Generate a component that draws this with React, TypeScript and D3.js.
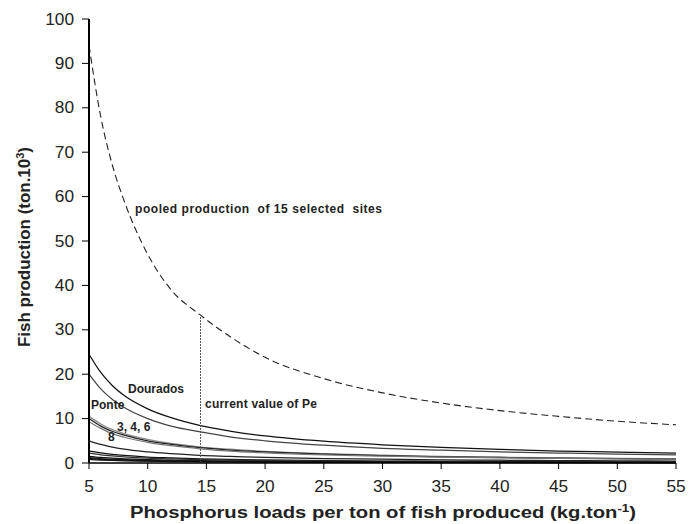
import React from 'react'
import * as d3 from 'd3'

// phosphorus load per ton of fish (kg/ton)
const loads = [5, 6, 7, 8, 10, 12, 14.5, 17, 20, 25, 30, 35, 40, 45, 50, 55]

// fish production (ton.10^3) per site
const pooled = [94, 78, 67, 59, 47, 39, 33.3, 28.5, 23.8, 19, 15.8, 13.5, 11.8, 10.5, 9.4, 8.6]
const dourados = [24.5, 20.4, 17.4, 15.2, 12.2, 10.2, 8.4, 7.2, 6.1, 4.9, 4.1, 3.5, 3.05, 2.7, 2.45, 2.2]
const ponte = [20.0, 16.7, 14.3, 12.5, 10.0, 8.3, 7.0, 5.9, 5.0, 4.0, 3.3, 2.9, 2.5, 2.25, 2.0, 1.85]
const site3 = [10.5, 8.8, 7.5, 6.6, 5.3, 4.4, 3.6, 3.1, 2.6, 2.1, 1.75, 1.5, 1.3, 1.15, 1.05, 0.95]
const site4 = [10.0, 8.3, 7.1, 6.3, 5.0, 4.2, 3.45, 2.9, 2.5, 2.0, 1.65, 1.4, 1.25, 1.1, 1.0, 0.9]
const site6 = [9.3, 7.8, 6.6, 5.8, 4.65, 3.9, 3.2, 2.7, 2.3, 1.85, 1.55, 1.3, 1.15, 1.05, 0.93, 0.85]
const site8 = [5.0, 4.2, 3.6, 3.1, 2.5, 2.1, 1.7, 1.5, 1.25, 1.0, 0.85, 0.7, 0.62, 0.55, 0.5, 0.45]
const siteA = [2.7, 2.3, 1.95, 1.7, 1.35, 1.15, 0.93, 0.8, 0.68, 0.54, 0.45, 0.39, 0.34, 0.3, 0.27, 0.25]
const siteB = [2.2, 1.85, 1.6, 1.4, 1.1, 0.92, 0.76, 0.65, 0.55, 0.44, 0.37, 0.32, 0.28, 0.25, 0.22, 0.2]
const siteC = [1.5, 1.25, 1.08, 0.95, 0.75, 0.63, 0.52, 0.44, 0.38, 0.3, 0.25, 0.21, 0.19, 0.17, 0.15, 0.14]
const siteD = [1.2, 1.0, 0.86, 0.75, 0.6, 0.5, 0.41, 0.35, 0.3, 0.24, 0.2, 0.17, 0.15, 0.13, 0.12, 0.11]
const siteE = [1.0, 0.83, 0.71, 0.63, 0.5, 0.42, 0.35, 0.29, 0.25, 0.2, 0.17, 0.14, 0.13, 0.11, 0.1, 0.09]
const siteF = [0.8, 0.67, 0.57, 0.5, 0.4, 0.33, 0.28, 0.24, 0.2, 0.16, 0.13, 0.11, 0.1, 0.09, 0.08, 0.07]

const sites = [
  {name: 'Dourados', values: dourados, color: '#111'},
  {name: 'Ponte', values: ponte, color: '#444'},
  {name: '3', values: site3, color: '#888'},
  {name: '4', values: site4, color: '#222'},
  {name: '6', values: site6, color: '#777'},
  {name: '8', values: site8, color: '#222'},
  {name: 'a', values: siteA, color: '#111'},
  {name: 'b', values: siteB, color: '#333'},
  {name: 'c', values: siteC, color: '#111'},
  {name: 'd', values: siteD, color: '#222'},
  {name: 'e', values: siteE, color: '#111'},
  {name: 'f', values: siteF, color: '#111'}
]

const xTicks = [5, 10, 15, 20, 25, 30, 35, 40, 45, 50, 55]
const yTicks = [0, 10, 20, 30, 40, 50, 60, 70, 80, 90, 100]
const currentPe = 14.5

export default function App() {
  const width = 698, height = 524
  const x = d3.scaleLinear().domain([5, 55]).range([89, 676])
  const y = d3.scaleLinear().domain([0, 100]).range([463, 19])

  const line = d3.line<number>()
    .x((d, i) => x(loads[i]))
    .y(d => y(d))
    .curve(d3.curveMonotoneX)

  const peTop = pooled[loads.indexOf(currentPe)]
  const font = 'Arial, "Liberation Sans", sans-serif'
  const digitW = 9.6

  return (
    <svg width={width} height={height} style={{position: 'absolute', left: 0, top: 0, background: '#fff'}}
         fontFamily={font}>
      <rect width={width} height={height} fill="#fff"/>
      {/* site curves */}
      <g fill="none" strokeWidth={1.25}>
        {sites.map(s => <path key={s.name} d={line(s.values) || ''} stroke={s.color}/>)}
      </g>
      <path d={line(pooled) || ''} fill="none" stroke="#222" strokeWidth={1.1} strokeDasharray="7,4"/>
      <line x1={x(currentPe)} x2={x(currentPe)} y1={y(0)} y2={y(peTop)} stroke="#555" strokeWidth={1}
            strokeDasharray="2,1"/>

      {/* axes */}
      <line x1={x(5)} x2={x(55)} y1={y(0)} y2={y(0)} stroke="#000" strokeWidth={1.5}/>
      <line x1={x(5)} x2={x(5)} y1={y(0)} y2={y(100)} stroke="#000" strokeWidth={2}/>
      {xTicks.map(t => (
        <g key={t}>
          <line x1={x(t)} x2={x(t)} y1={y(0)} y2={y(0) + 6} stroke="#000" strokeWidth={1}/>
          <text x={x(t)} y={492} textAnchor="middle" fontSize={16} fill="#222"
                textLength={String(t).length * digitW} lengthAdjust="spacingAndGlyphs">{t}</text>
        </g>
      ))}
      {yTicks.map(t => (
        <g key={t}>
          <line x1={x(5) - 7} x2={x(5)} y1={y(t)} y2={y(t)} stroke="#000" strokeWidth={1}/>
          <text x={74} y={y(t) + 5.5} textAnchor="end" fontSize={16} fill="#222"
                textLength={String(t).length * digitW} lengthAdjust="spacingAndGlyphs">{t}</text>
        </g>
      ))}

      {/* axis titles */}
      <text x={383} y={518} textAnchor="middle" fontSize={16} fontWeight="bold" fill="#222"
            textLength={506} lengthAdjust="spacingAndGlyphs">
        Phosphorus loads per ton of fish produced (kg.ton<tspan dy={-6} fontSize={10.5}>-1</tspan><tspan dy={6}>)</tspan>
      </text>
      <text transform={`translate(30,247) rotate(-90)`} textAnchor="middle" fontSize={16} fontWeight="bold" fill="#222"
            textLength={200} lengthAdjust="spacingAndGlyphs">
        Fish production (ton.10<tspan dy={-6} fontSize={10.5}>3</tspan><tspan dy={6}>)</tspan>
      </text>

      {/* annotations */}
      <g fontSize={12} fontWeight="bold" fill="#222">
        <text x={135} y={213} style={{whiteSpace: 'pre'}} textLength={247} lengthAdjust="spacing">pooled production  of 15 selected  sites</text>
        <text x={128} y={393}>Dourados</text>
        <text x={91} y={409}>Ponte</text>
        <text x={117} y={431}>3, 4, 6</text>
        <text x={108} y={441}>8</text>
        <text x={205} y={408} textLength={112} lengthAdjust="spacing">current value of Pe</text>
      </g>
    </svg>
  )
}
